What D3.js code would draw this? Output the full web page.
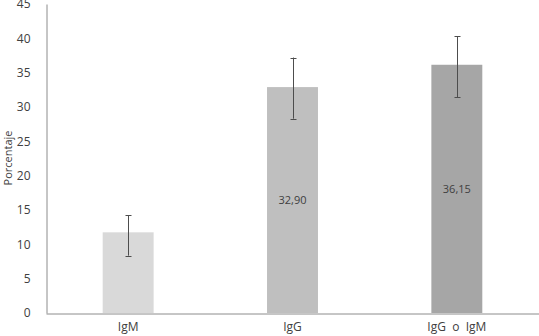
<!DOCTYPE html>
<html>
<head>
<meta charset="utf-8">
<script src="https://cdn.jsdelivr.net/npm/d3@7"></script>
<style>
  body { margin: 0; background: #fff; }
  text { font-family: "Open Sans", "Noto Sans", sans-serif; fill: #404040; }
</style>
</head>
<body>
<script>
// chart data
const categories = ["IgM", "IgG", "IgG  o  IgM"];
const values = [11.75, 32.90, 36.15];
const errLow = [8.35, 28.3, 31.4];
const errHigh = [14.2, 37.2, 40.3];
const valueLabels = ["", "32,90", "36,15"];
const barColors = ["#d9d9d9", "#bfbfbf", "#a6a6a6"];
const yTicks = [0, 5, 10, 15, 20, 25, 30, 35, 40, 45];

(function(){
    "use strict";
    let width = 539, height = 336;
    let margin = {top: 4, right: 0, bottom: 23, left: 46};

    let svg = d3.select("body").append("svg")
        .attr("width", width)
        .attr("height", height);

    let x = d3.scaleBand()
        .domain(categories)
        .range([margin.left, width - margin.right])
        .padding(0);

    let y = d3.scaleLinear()
        .domain([0, 45])
        .range([height - margin.bottom, margin.top]);

    let barW = x.bandwidth() * 0.31;

    // bars
    svg.selectAll(".bar")
        .data(categories)
        .enter()
        .append("rect")
            .attr("x", (d) => x(d) + x.bandwidth() / 2 - barW / 2)
            .attr("y", (d, i) => y(values[i]))
            .attr("width", barW)
            .attr("height", (d, i) => y(0) - y(values[i]))
            .attr("fill", (d, i) => barColors[i]);

    // error bars
    let eb = svg.selectAll(".err")
        .data(categories)
        .enter()
        .append("g")
            .attr("stroke", "#4d4d4d")
            .attr("stroke-width", 1);
    let cx = (d) => Math.round(x(d) + x.bandwidth() / 2) + 0.5;
    eb.append("line")
        .attr("x1", cx).attr("x2", cx)
        .attr("y1", (d, i) => y(errLow[i]))
        .attr("y2", (d, i) => y(errHigh[i]));
    eb.append("line")
        .attr("x1", (d) => cx(d) - 3).attr("x2", (d) => cx(d) + 3)
        .attr("y1", (d, i) => Math.round(y(errHigh[i])) + 0.5)
        .attr("y2", (d, i) => Math.round(y(errHigh[i])) + 0.5);
    eb.append("line")
        .attr("x1", (d) => cx(d) - 3).attr("x2", (d) => cx(d) + 3)
        .attr("y1", (d, i) => Math.round(y(errLow[i])) + 0.5)
        .attr("y2", (d, i) => Math.round(y(errLow[i])) + 0.5);

    // value labels
    svg.selectAll(".vlabel")
        .data(categories)
        .enter()
        .append("text")
            .attr("x", (d) => x(d) + x.bandwidth() / 2)
            .attr("y", (d, i) => (y(values[i]) + y(0)) / 2)
            .attr("dy", "0.35em")
            .attr("text-anchor", "middle")
            .style("font-size", "11px")
            .text((d, i) => valueLabels[i]);

    // y axis
    let yAxis = d3.axisLeft(y)
        .tickValues(yTicks)
        .tickSize(0)
        .tickPadding(16);
    let gy = svg.append("g")
        .attr("transform", "translate(" + (margin.left + 0.5) + ",0)")
        .call(yAxis);
    gy.select(".domain").attr("stroke", "#8c8c8c");
    gy.selectAll("text")
        .style("font-size", "12px")
        .attr("fill", "#404040");

    // x axis
    let xAxis = d3.axisBottom(x)
        .tickSize(0)
        .tickPadding(9);
    let gx = svg.append("g")
        .attr("transform", "translate(0," + (y(0) + 0.5) + ")")
        .call(xAxis);
    gx.select(".domain").attr("stroke", "#8c8c8c");
    gx.selectAll("text")
        .style("font-size", "12px")
        .style("white-space", "pre")
        .attr("fill", "#404040");

    svg.append("text")
        .attr("transform", "rotate(-90)")
        .attr("x", -158)
        .attr("y", 12)
        .attr("text-anchor", "middle")
        .style("font-size", "11px")
        .text("Porcentaje");
})()
</script>
</body>
</html>
